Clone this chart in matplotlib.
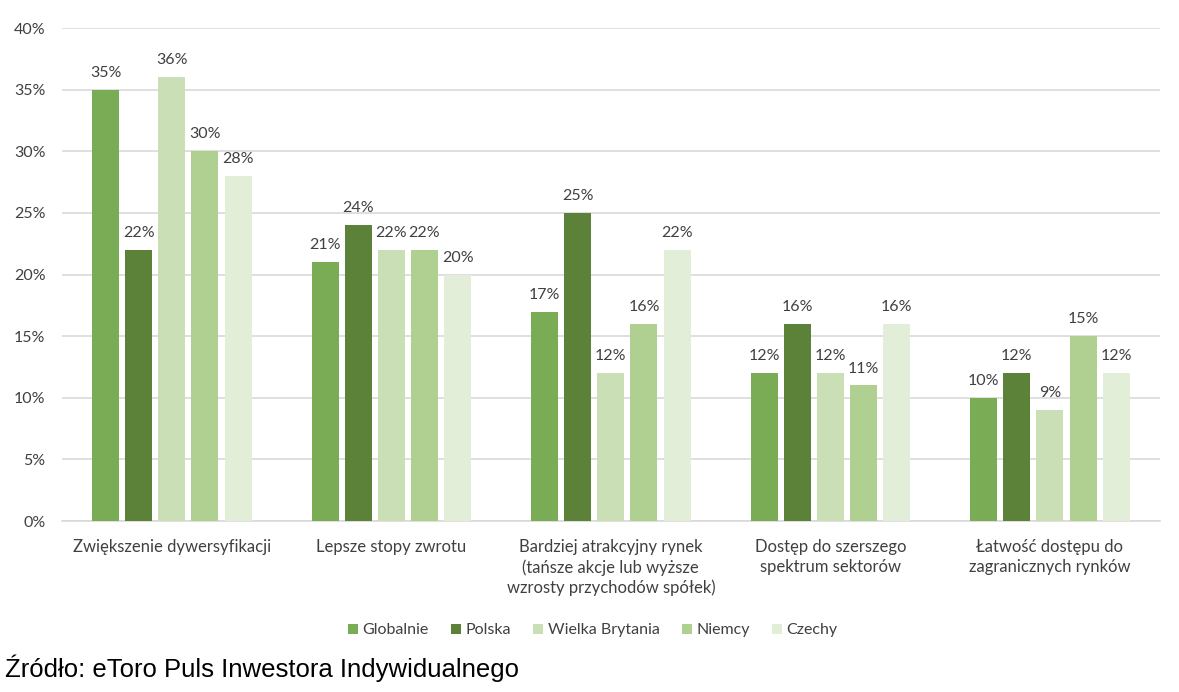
import numpy as np
import matplotlib.pyplot as plt

categories = [
    "Zwiększenie dywersyfikacji",
    "Lepsze stopy zwrotu",
    "Bardziej atrakcyjny rynek\n(tańsze akcje lub wyższe\nwzrosty przychodów spółek)",
    "Dostęp do szerszego\nspektrum sektorów",
    "Łatwość dostępu do\nzagranicznych rynków",
]
series_names = ["Globalnie", "Polska", "Wielka Brytania", "Niemcy", "Czechy"]
globalnie = [35, 21, 17, 12, 10]
polska = [22, 24, 25, 16, 12]
wielka_brytania = [36, 22, 12, 12, 9]
niemcy = [30, 22, 16, 11, 15]
czechy = [28, 20, 22, 16, 12]
colors = ["#7AAB55", "#5C8139", "#CADFB6", "#B0D092", "#E3EED8"]

plt.rcParams['font.family'] = ['Lato', 'DejaVu Sans']
fig = plt.figure(figsize=(11.79, 6.92), dpi=100)
ax = fig.add_axes([0.0526, 0.247, 0.931, 0.7125])

x = np.arange(len(categories))
width = 0.123
step = 0.151
all_series = [globalnie, polska, wielka_brytania, niemcy, czechy]
for i, (name, vals, col) in enumerate(zip(series_names, all_series, colors)):
    pos = x + (i - 2) * step
    bars = ax.bar(pos, vals, width, color=col, label=name, zorder=3)
    for b, v in zip(bars, vals):
        ax.text(b.get_x() + b.get_width() / 2, v + 0.8, f"{v}%",
                ha='center', va='bottom', fontsize=11.5, color='#404040', zorder=4)

ax.set_xlim(-0.5, len(categories) - 0.5)
ax.set_ylim(0, 40)
ax.set_yticks(range(0, 41, 5))
ax.set_yticklabels([f"{t}%" for t in range(0, 41, 5)], fontsize=11.5, color='#404040')
ax.yaxis.grid(True, color='#D9D9D9', linewidth=1.2, zorder=0)
ax.set_xticks(x)
ax.set_xticklabels(categories, fontsize=12, color='#404040', linespacing=1.3)
ax.tick_params(axis='both', length=0)
ax.tick_params(axis='x', pad=13)
ax.tick_params(axis='y', pad=12)
for s in ['top', 'right', 'left']:
    ax.spines[s].set_visible(False)
ax.spines['bottom'].set_color('#D9D9D9')
ax.spines['bottom'].set_linewidth(1.2)

fig.legend(loc='center', bbox_to_anchor=(0.503, 0.089), ncol=5, frameon=False,
           fontsize=11.5, handlelength=0.6, handleheight=0.6, handletextpad=0.3,
           columnspacing=1.4, labelcolor='#404040')

fig.text(0.004, 0.034, "Źródło: eToro Puls Inwestora Indywidualnego",
         fontsize=18.5, family=['Liberation Sans', 'DejaVu Sans'], color='black',
         va='center', ha='left')

fig.savefig("out.png", dpi=100)
